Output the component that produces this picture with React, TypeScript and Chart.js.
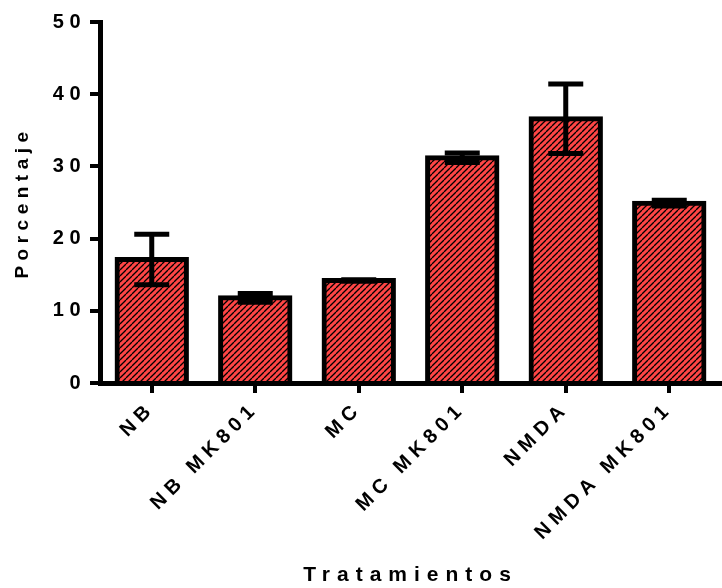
import React, { useEffect, useRef } from "react";
import { Chart, registerables } from "chart.js";

Chart.register(...registerables);

const categories = ["NB", "NB MK801", "MC", "MC MK801", "NMDA", "NMDA MK801"];
const means = [17.1, 11.8, 14.2, 31.2, 36.6, 24.9];
const errors = [3.5, 0.6, 0.1, 0.65, 4.8, 0.4];
const yTicks = [0, 10, 20, 30, 40, 50];

const FONT = "'Liberation Sans', Arial, sans-serif";

function spacingFor(size: number) {
  if (size >= 21) return 7;
  return 5.5;
}

function patchCtx(ctx: any) {
  const desc = Object.getOwnPropertyDescriptor(CanvasRenderingContext2D.prototype, "font");
  if (!desc || ctx.__patched) return;
  ctx.__patched = true;
  Object.defineProperty(ctx, "font", {
    configurable: true,
    get() {
      return desc.get!.call(this);
    },
    set(v: string) {
      desc.set!.call(this, v);
      const m = /(\d+(?:\.\d+)?)px/.exec(v);
      const size = m ? parseFloat(m[1]) : 12;
      (this as any).letterSpacing = spacingFor(size) + "px";
    },
  });
}

function makePattern(): CanvasPattern | string {
  const s = 6;
  const c = document.createElement("canvas");
  c.width = s;
  c.height = s;
  const g = c.getContext("2d");
  if (!g) return "#FF4545";
  g.fillStyle = "#FF4545";
  g.fillRect(0, 0, s, s);
  g.strokeStyle = "#000";
  g.lineWidth = 1.3;
  for (const k of [-s, 0, s]) {
    g.beginPath();
    g.moveTo(k, s);
    g.lineTo(k + s, 0);
    g.stroke();
  }
  const p = g.createPattern(c, "repeat");
  return p || "#FF4545";
}

const errorBarPlugin = {
  id: "errorBars",
  afterDatasetsDraw(chart: any) {
    const ctx = chart.ctx;
    const meta = chart.getDatasetMeta(0);
    const y = chart.scales.y;
    ctx.save();
    ctx.strokeStyle = "#000";
    ctx.lineWidth = 5;
    ctx.lineCap = "butt";
    meta.data.forEach((bar: any, i: number) => {
      const top = y.getPixelForValue(means[i] + errors[i]);
      const bot = y.getPixelForValue(means[i] - errors[i]);
      const half = 17.5;
      ctx.beginPath();
      ctx.moveTo(bar.x, top);
      ctx.lineTo(bar.x, bot);
      ctx.moveTo(bar.x - half, top);
      ctx.lineTo(bar.x + half, top);
      ctx.moveTo(bar.x - half, bot);
      ctx.lineTo(bar.x + half, bot);
      ctx.stroke();
    });
    ctx.restore();
  },
};

export default function App() {
  const ref = useRef<HTMLCanvasElement | null>(null);
  useEffect(() => {
    document.body.style.margin = "0";
    const canvas = ref.current;
    if (!canvas) return;
    const ctx = canvas.getContext("2d");
    patchCtx(ctx);
    const tickFont = { family: FONT, size: 20, weight: "bold" as const };
    const chart = new Chart(canvas, {
      type: "bar",
      data: {
        labels: categories,
        datasets: [
          {
            data: means,
            backgroundColor: makePattern() as any,
            borderColor: "#000",
            borderWidth: 5,
            borderSkipped: "start",
            inflateAmount: 2.5,
            barPercentage: 0.67,
            categoryPercentage: 1,
          } as any,
        ],
      },
      options: {
        animation: false,
        responsive: false,
        events: [],
        layout: { padding: { top: 22, right: 1, left: 0, bottom: 0 } },
        plugins: { legend: { display: false }, tooltip: { enabled: false } },
        scales: {
          x: {
            offset: true,
            afterFit: (scale: any) => {
              scale.height = 205;
            },
            grid: {
              display: true,
              offset: false,
              drawOnChartArea: false,
              drawTicks: true,
              tickLength: 10,
              tickWidth: 4,
              tickColor: "#000",
              color: "#000",
              lineWidth: 4,
            },
            border: { display: true, color: "#000", width: 5 },
            ticks: {
              color: "#000",
              font: tickFont,
              maxRotation: 45,
              minRotation: 45,
              autoSkip: false,
              padding: 4,
            },
            title: {
              display: true,
              text: "Tratamientos",
              color: "#000",
              font: { family: FONT, size: 21, weight: "bold" },
              padding: { top: 0, bottom: 0 },
            },
          },
          y: {
            min: 0,
            max: 50,
            afterBuildTicks: (scale: any) => {
              scale.ticks = yTicks.map((v) => ({ value: v }));
            },
            afterFit: (scale: any) => {
              scale.width = 100;
            },
            grid: {
              display: true,
              drawOnChartArea: false,
              drawTicks: true,
              tickLength: 10,
              tickWidth: 4,
              tickColor: "#000",
              color: "#000",
              lineWidth: 4,
            },
            border: { display: true, color: "#000", width: 5 },
            ticks: { color: "#000", font: tickFont, padding: 4 },
            title: {
              display: true,
              text: "Porcentaje",
              color: "#000",
              font: { family: FONT, size: 19, weight: "bold" },
              padding: { top: 11, bottom: 0 },
            },
          },
        },
      },
      plugins: [errorBarPlugin],
    });
    return () => chart.destroy();
  }, []);
  return <canvas ref={ref} width={722} height={588} style={{ display: "block" }} />;
}
